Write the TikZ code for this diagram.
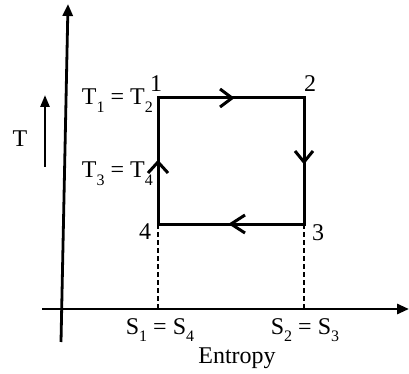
\documentclass[tikz,border=0pt]{standalone}
\usepackage{fontspec}
\setmainfont{Liberation Serif}
\usetikzlibrary{arrows.meta}
\newcommand{\lowidx}[1]{\raisebox{-0.3em}{\fontsize{16}{16}\selectfont #1}}
\tikzset{
  axis/.style={line width=2.8pt, -{Triangle[length=12pt,width=10pt]}},
  cyc/.style={line width=3pt, line cap=rect},
  chev/.style={line width=3pt, line join=miter},
  drop/.style={line width=2.6pt, dashed, dash pattern=on 5pt off 3pt},
  lbl/.style={font=\fontsize{24}{28}\selectfont, inner sep=0pt},
}
\begin{document}
\begin{tikzpicture}[x=1pt,y=-1pt]
\useasboundingbox (0,0) rectangle (409,374);
% axes
\coordinate (vb) at (61,342);
\coordinate (vt) at (68,4);
\coordinate (hl) at (42,309);
\coordinate (hr) at (409,309);
\draw[axis] (vb) -- (vt);
\draw[axis] (hl) -- (hr);
% cycle corners
\coordinate (c1) at (158,98);
\coordinate (c2) at (304,98);
\coordinate (c3) at (304,224);
\coordinate (c4) at (158,224);
\coordinate (s1) at (158,309);
\coordinate (s2) at (304,309);
\draw[cyc] (c1) -- (c2) -- (c3) -- (c4) -- cycle;
\draw[drop] (c4) -- (s1);
\draw[drop] (c3) -- (s2);
% direction chevrons
\coordinate (m12) at (232,98);
\coordinate (m23) at (304,162);
\coordinate (m34) at (231,224);
\coordinate (m41) at (158,162);
\draw[chev] ([shift={(-12,-9)}]m12) -- (m12) -- ([shift={(-12,9)}]m12);
\draw[chev] ([shift={(-9,-11)}]m23) -- (m23) -- ([shift={(9,-11)}]m23);
\draw[chev] ([shift={(14,-9)}]m34) -- (m34) -- ([shift={(14,9)}]m34);
\draw[chev] ([shift={(-10,11)}]m41) -- (m41) -- ([shift={(10,11)}]m41);
% small T arrow
\coordinate (ta) at (45,167);
\coordinate (tb) at (45,95);
\draw[line width=2.6pt, -{Triangle[length=12pt,width=9pt]}] (ta) -- (tb);
% labels
\node[lbl, anchor=base] (n1) at (156,92) {1};
\node[lbl, anchor=base] (n2) at (310,92) {2};
\node[lbl, anchor=base] (n3) at (318,240) {3};
\node[lbl, anchor=base] (n4) at (145,239) {4};
\node[lbl, anchor=base east] (t12) at (153,105) {T\lowidx{1} = T\lowidx{2}};
\node[lbl, anchor=base east] (t34) at (153,178) {T\lowidx{3} = T\lowidx{4}};
\node[lbl, anchor=base] (tt) at (20,147) {T};
\node[lbl, anchor=base] (sa) at (160,334) {S\lowidx{1} = S\lowidx{4}};
\node[lbl, anchor=base] (sb) at (305,334) {S\lowidx{2} = S\lowidx{3}};
\node[lbl, anchor=base] (en) at (237,363) {Entropy};
\end{tikzpicture}
\end{document}
